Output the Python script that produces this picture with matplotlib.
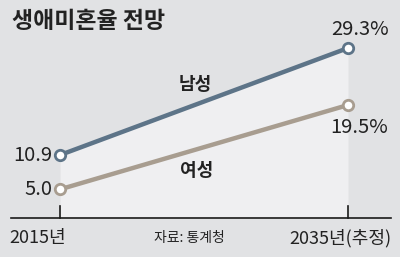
import matplotlib.pyplot as plt

plt.rcParams['font.family'] = ['Noto Sans CJK KR', 'DejaVu Sans']

# 생애미혼율 (%) - 2015년 실제, 2035년 추정
years = [2015, 2035]
male = [10.9, 29.3]
female = [5.0, 19.5]
male_labels = ['10.9', '29.3%']
female_labels = ['5.0', '19.5%']
x_labels = ['2015년', '2035년(추정)']

bg = '#e1e2e4'
fill_c = '#efeff1'
male_c = '#5d7488'
female_c = '#a89d90'
text_c = '#222222'

fig = plt.figure(figsize=(4.0, 2.57), dpi=100, facecolor=bg)
ax = fig.add_axes([0, 0, 1, 1])
ax.set_facecolor(bg)
ax.set_xlim(2010.83, 2038.61)
ax.set_ylim(-6.64, 37.56)
ax.axis('off')

# 남성 선 아래 밝은 영역
ax.fill_between(years, 0, male, color=fill_c, lw=0, zorder=1)

# 기준선과 눈금
ax.plot([2011.6, 2038.0], [0, 0], color='#1a1a1a', lw=1.2, zorder=3)
for yr in years:
    ax.plot([yr, yr], [0, 2.2], color='#1a1a1a', lw=1.2, zorder=3)

ax.plot(years, male, color=male_c, lw=3.2, zorder=4,
        marker='o', ms=7.5, mfc='white', mec=male_c, mew=2)
ax.plot(years, female, color=female_c, lw=3.2, zorder=4,
        marker='o', ms=7.5, mfc='white', mec=female_c, mew=2)

# 값 레이블
ax.text(2014.45, male[0], male_labels[0], ha='right', va='center',
        fontsize=14.5, color=text_c)
ax.text(2014.45, female[0], female_labels[0], ha='right', va='center',
        fontsize=14.5, color=text_c)
ax.text(2037.8, male[1] + 3.2, male_labels[1], ha='right', va='center',
        fontsize=14.5, color=text_c)
ax.text(2037.8, female[1] - 3.8, female_labels[1], ha='right', va='center',
        fontsize=14.5, color=text_c)

# 계열 이름
ax.text(2024.4, 23.1, '남성', ha='center', va='center', fontsize=13,
        fontweight='bold', color=text_c)
ax.text(2024.5, 8.3, '여성', ha='center', va='center', fontsize=13,
        fontweight='bold', color=text_c)

# x축 레이블과 출처
ax.text(2011.5, -3.4, x_labels[0], ha='left', va='center', fontsize=13,
        color=text_c)
ax.text(2038.0, -3.4, x_labels[1], ha='right', va='center', fontsize=13,
        color=text_c)
ax.text(2021.5, -3.4, '자료: 통계청', ha='left', va='center', fontsize=10,
        color=text_c)

fig.text(0.03, 0.915, '생애미혼율 전망', ha='left', va='center', fontsize=16.5,
         fontweight='bold', color=text_c)

fig.savefig('out.png', dpi=100, facecolor=bg)
